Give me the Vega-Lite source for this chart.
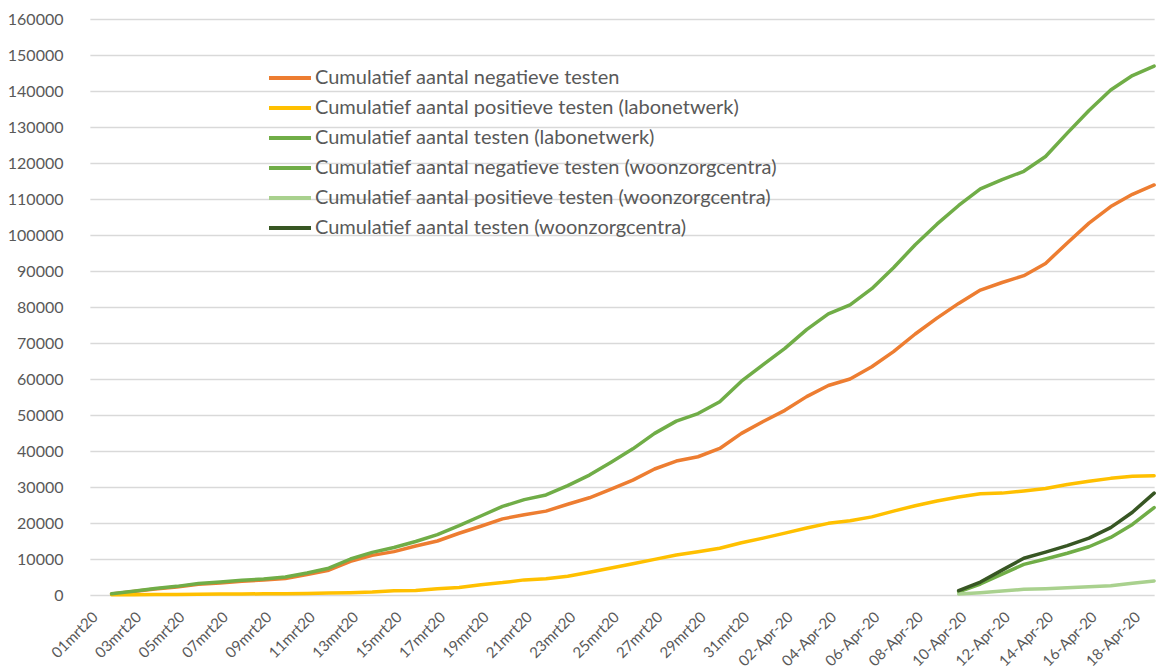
{
  "$schema": "https://vega.github.io/schema/vega-lite/v6.json",
  "autosize": {"type": "none"},
  "width": 1080,
  "height": 576,
  "padding": {"left": 79, "top": 19, "right": 0, "bottom": 76},
  "background": "white",
  "config": {"font": "Lato", "view": {"stroke": null}},
  "datasets": {
    "series": [
      {"code": "neg", "serie": "Cumulatief aantal negatieve  testen"},
      {"code": "pos", "serie": "Cumulatief aantal positieve  testen (labonetwerk)"},
      {"code": "tot", "serie": "Cumulatief aantal testen (labonetwerk)"},
      {"code": "wneg", "serie": "Cumulatief aantal negatieve  testen (woonzorgcentra)"},
      {"code": "wpos", "serie": "Cumulatief aantal positieve  testen (woonzorgcentra)"},
      {"code": "wtot", "serie": "Cumulatief aantal testen (woonzorgcentra)"}
    ],
    "tests": [
      {"dag": "02mrt20", "neg": 300, "pos": 50, "tot": 350},
      {"dag": "03mrt20", "neg": 950, "pos": 80, "tot": 1050},
      {"dag": "04mrt20", "neg": 1650, "pos": 120, "tot": 1800},
      {"dag": "05mrt20", "neg": 2250, "pos": 170, "tot": 2400},
      {"dag": "06mrt20", "neg": 3000, "pos": 220, "tot": 3200},
      {"dag": "07mrt20", "neg": 3350, "pos": 260, "tot": 3600},
      {"dag": "08mrt20", "neg": 3800, "pos": 300, "tot": 4100},
      {"dag": "09mrt20", "neg": 4150, "pos": 320, "tot": 4450},
      {"dag": "10mrt20", "neg": 4600, "pos": 370, "tot": 5000},
      {"dag": "11mrt20", "neg": 5700, "pos": 420, "tot": 6100},
      {"dag": "12mrt20", "neg": 6900, "pos": 550, "tot": 7450},
      {"dag": "13mrt20", "neg": 9350, "pos": 650, "tot": 10000},
      {"dag": "14mrt20", "neg": 11000, "pos": 830, "tot": 11850},
      {"dag": "15mrt20", "neg": 12050, "pos": 1150, "tot": 13200},
      {"dag": "16mrt20", "neg": 13600, "pos": 1250, "tot": 14850},
      {"dag": "17mrt20", "neg": 15000, "pos": 1750, "tot": 16750},
      {"dag": "18mrt20", "neg": 17150, "pos": 2100, "tot": 19250},
      {"dag": "19mrt20", "neg": 19100, "pos": 2850, "tot": 21950},
      {"dag": "20mrt20", "neg": 21150, "pos": 3450, "tot": 24600},
      {"dag": "21mrt20", "neg": 22300, "pos": 4200, "tot": 26500},
      {"dag": "22mrt20", "neg": 23300, "pos": 4500, "tot": 27800},
      {"dag": "23mrt20", "neg": 25200, "pos": 5200, "tot": 30400},
      {"dag": "24mrt20", "neg": 27000, "pos": 6300, "tot": 33300},
      {"dag": "25mrt20", "neg": 29400, "pos": 7500, "tot": 36900},
      {"dag": "26mrt20", "neg": 31900, "pos": 8700, "tot": 40600},
      {"dag": "27mrt20", "neg": 35000, "pos": 9900, "tot": 44900},
      {"dag": "28mrt20", "neg": 37200, "pos": 11100, "tot": 48300},
      {"dag": "29mrt20", "neg": 38400, "pos": 12000, "tot": 50400},
      {"dag": "30mrt20", "neg": 40700, "pos": 13000, "tot": 53700},
      {"dag": "31mrt20", "neg": 44900, "pos": 14500, "tot": 59400},
      {"dag": "01-Apr-20", "neg": 48200, "pos": 15800, "tot": 64000},
      {"dag": "02-Apr-20", "neg": 51300, "pos": 17200, "tot": 68500},
      {"dag": "03-Apr-20", "neg": 55100, "pos": 18600, "tot": 73700},
      {"dag": "04-Apr-20", "neg": 58200, "pos": 19900, "tot": 78100},
      {"dag": "05-Apr-20", "neg": 60000, "pos": 20600, "tot": 80600},
      {"dag": "06-Apr-20", "neg": 63400, "pos": 21700, "tot": 85100},
      {"dag": "07-Apr-20", "neg": 67600, "pos": 23300, "tot": 90900},
      {"dag": "08-Apr-20", "neg": 72500, "pos": 24800, "tot": 97300},
      {"dag": "09-Apr-20", "neg": 76900, "pos": 26100, "tot": 103000},
      {"dag": "10-Apr-20", "neg": 81000, "pos": 27200, "tot": 108200, "wneg": 900, "wpos": 280, "wtot": 1200},
      {"dag": "11-Apr-20", "neg": 84700, "pos": 28100, "tot": 112800, "wneg": 3050, "wpos": 650, "wtot": 3600},
      {"dag": "12-Apr-20", "neg": 86800, "pos": 28300, "tot": 115400, "wneg": 5800, "wpos": 1100, "wtot": 6900},
      {"dag": "13-Apr-20", "neg": 88700, "pos": 28900, "tot": 117700, "wneg": 8500, "wpos": 1570, "wtot": 10200},
      {"dag": "14-Apr-20", "neg": 92100, "pos": 29600, "tot": 121800, "wneg": 10000, "wpos": 1760, "wtot": 11900},
      {"dag": "15-Apr-20", "neg": 97800, "pos": 30700, "tot": 128300, "wneg": 11600, "wpos": 2040, "wtot": 13700},
      {"dag": "16-Apr-20", "neg": 103300, "pos": 31600, "tot": 134600, "wneg": 13400, "wpos": 2300, "wtot": 15800},
      {"dag": "17-Apr-20", "neg": 107900, "pos": 32400, "tot": 140300, "wneg": 16000, "wpos": 2600, "wtot": 18700},
      {"dag": "18-Apr-20", "neg": 111300, "pos": 33000, "tot": 144300, "wneg": 19600, "wpos": 3240, "wtot": 23000},
      {"dag": "19-Apr-20", "neg": 113900, "pos": 33100, "tot": 146900, "wneg": 24300, "wpos": 3900, "wtot": 28300}
    ]
  },
  "data": {"name": "tests"},
  "transform": [
    {"fold": ["neg", "pos", "tot", "wneg", "wpos", "wtot"], "as": ["code", "waarde"]},
    {"filter": "isValid(datum.waarde)"},
    {"lookup": "code", "from": {"data": {"name": "series"}, "key": "code", "fields": ["serie"]}}
  ],
  "mark": {"type": "line", "strokeWidth": 3.5, "strokeJoin": "round", "strokeCap": "round"},
  "encoding": {
    "x": {
      "field": "dag",
      "type": "ordinal",
      "sort": null,
      "scale": {
        "type": "point",
        "padding": 0,
        "range": [10.86, 1075.14],
        "domain": ["01mrt20","02mrt20","03mrt20","04mrt20","05mrt20","06mrt20","07mrt20","08mrt20","09mrt20","10mrt20","11mrt20","12mrt20","13mrt20","14mrt20","15mrt20","16mrt20","17mrt20","18mrt20","19mrt20","20mrt20","21mrt20","22mrt20","23mrt20","24mrt20","25mrt20","26mrt20","27mrt20","28mrt20","29mrt20","30mrt20","31mrt20","01-Apr-20","02-Apr-20","03-Apr-20","04-Apr-20","05-Apr-20","06-Apr-20","07-Apr-20","08-Apr-20","09-Apr-20","10-Apr-20","11-Apr-20","12-Apr-20","13-Apr-20","14-Apr-20","15-Apr-20","16-Apr-20","17-Apr-20","18-Apr-20","19-Apr-20"]
      },
      "axis": {
        "title": null,
        "values": ["01mrt20","03mrt20","05mrt20","07mrt20","09mrt20","11mrt20","13mrt20","15mrt20","17mrt20","19mrt20","21mrt20","23mrt20","25mrt20","27mrt20","29mrt20","31mrt20","02-Apr-20","04-Apr-20","06-Apr-20","08-Apr-20","10-Apr-20","12-Apr-20","14-Apr-20","16-Apr-20","18-Apr-20"],
        "labelAngle": -45,
        "labelFontSize": 15,
        "labelColor": "#595959",
        "labelPadding": 14,
        "ticks": false,
        "domain": false,
        "grid": false
      }
    },
    "y": {
      "field": "waarde",
      "type": "quantitative",
      "scale": {"domain": [0, 160000], "nice": false},
      "axis": {
        "title": null,
        "values": [0,10000,20000,30000,40000,50000,60000,70000,80000,90000,100000,110000,120000,130000,140000,150000,160000],
        "format": "d",
        "labelFontSize": 16,
        "labelColor": "#595959",
        "labelPadding": 16,
        "ticks": false,
        "domain": false,
        "gridColor": "#D9D9D9",
        "gridWidth": 1.3
      }
    },
    "color": {
      "field": "serie",
      "type": "nominal",
      "scale": {
        "domain": [
          "Cumulatief aantal negatieve  testen",
          "Cumulatief aantal positieve  testen (labonetwerk)",
          "Cumulatief aantal testen (labonetwerk)",
          "Cumulatief aantal negatieve  testen (woonzorgcentra)",
          "Cumulatief aantal positieve  testen (woonzorgcentra)",
          "Cumulatief aantal testen (woonzorgcentra)"
        ],
        "range": ["#ED7D31", "#FFC000", "#70AD47", "#70AD47", "#A9D18E", "#375623"]
      },
      "legend": {
        "title": null,
        "orient": "none",
        "legendX": 188,
        "legendY": 44,
        "symbolType": "stroke",
        "symbolSize": 1764,
        "symbolStrokeWidth": 4,
        "clipHeight": 30,
        "labelFontSize": 20,
        "labelColor": "#595959",
        "labelLimit": 1000,
        "labelOffset": 2,
        "rowPadding": 0
      }
    }
  }
}
